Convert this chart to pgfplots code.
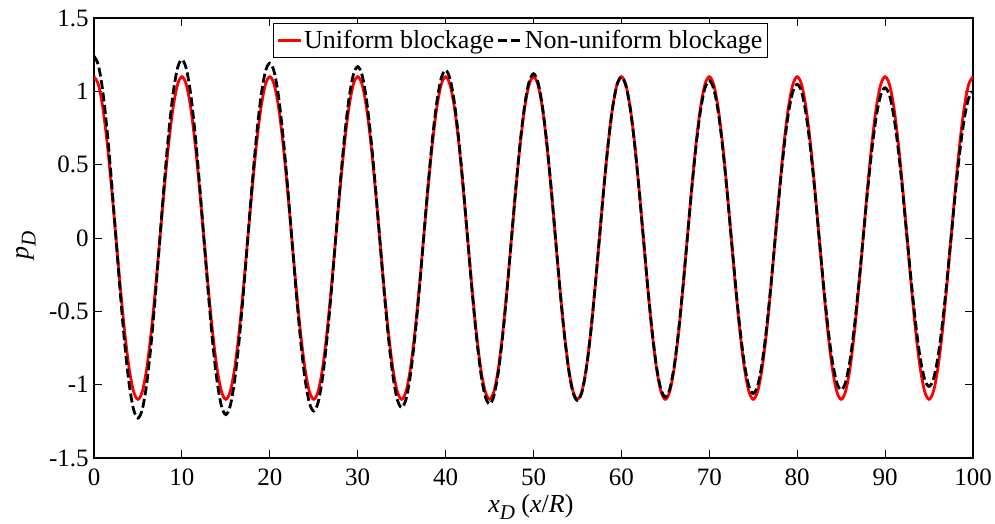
\documentclass[border=0pt]{standalone}
\usepackage{fontspec}
\setmainfont{Liberation Serif}
\usepackage{pgfplots}
\usepackage{pgfplotstable}
\pgfplotsset{compat=1.18}

% pressure along the duct: x_D, uniform blockage, non-uniform blockage
\pgfplotstableread{
x u n
0 1.100 1.240
0.5 1.046 1.178
1 0.890 1.001
1.5 0.647 0.727
2 0.340 0.382
2.5 0 0
3 -0.340 -0.381
3.5 -0.647 -0.724
4 -0.890 -0.995
4.5 -1.046 -1.169
5 -1.100 -1.228
5.5 -1.046 -1.167
6 -0.890 -0.992
6.5 -0.647 -0.720
7 -0.340 -0.378
7.5 0 0
8 0.340 0.377
8.5 0.647 0.717
9 0.890 0.986
9.5 1.046 1.158
10 1.100 1.216
10.5 1.046 1.155
11 0.890 0.982
11.5 0.647 0.713
12 0.340 0.374
12.5 0 0
13 -0.340 -0.374
13.5 -0.647 -0.710
14 -0.890 -0.976
14.5 -1.046 -1.146
15 -1.100 -1.204
15.5 -1.046 -1.144
16 -0.890 -0.972
16.5 -0.647 -0.706
17 -0.340 -0.371
17.5 0 0
18 0.340 0.370
18.5 0.647 0.703
19 0.890 0.966
19.5 1.046 1.135
20 1.100 1.192
20.5 1.046 1.133
21 0.890 0.962
21.5 0.647 0.699
22 0.340 0.367
22.5 0 0
23 -0.340 -0.366
23.5 -0.647 -0.696
24 -0.890 -0.957
24.5 -1.046 -1.123
25 -1.100 -1.180
25.5 -1.046 -1.121
26 -0.890 -0.953
26.5 -0.647 -0.691
27 -0.340 -0.363
27.5 0 0
28 0.340 0.362
28.5 0.647 0.689
29 0.890 0.947
29.5 1.046 1.112
30 1.100 1.168
30.5 1.046 1.110
31 0.890 0.943
31.5 0.647 0.684
32 0.340 0.359
32.5 0 0
33 -0.340 -0.359
33.5 -0.647 -0.682
34 -0.890 -0.937
34.5 -1.046 -1.101
35 -1.100 -1.156
35.5 -1.046 -1.098
36 -0.890 -0.933
36.5 -0.647 -0.677
37 -0.340 -0.356
37.5 0 0
38 0.340 0.355
38.5 0.647 0.675
39 0.890 0.927
39.5 1.046 1.089
40 1.100 1.144
40.5 1.046 1.087
41 0.890 0.924
41.5 0.647 0.670
42 0.340 0.352
42.5 0 0
43 -0.340 -0.351
43.5 -0.647 -0.667
44 -0.890 -0.918
44.5 -1.046 -1.078
45 -1.100 -1.132
45.5 -1.046 -1.075
46 -0.890 -0.914
46.5 -0.647 -0.663
47 -0.340 -0.348
47.5 0 0
48 0.340 0.348
48.5 0.647 0.660
49 0.890 0.908
49.5 1.046 1.066
50 1.100 1.120
50.5 1.046 1.064
51 0.890 0.904
51.5 0.647 0.656
52 0.340 0.345
52.5 0 0
53 -0.340 -0.344
53.5 -0.647 -0.653
54 -0.890 -0.898
54.5 -1.046 -1.055
55 -1.100 -1.108
55.5 -1.046 -1.053
56 -0.890 -0.894
56.5 -0.647 -0.649
57 -0.340 -0.341
57.5 0 0
58 0.340 0.340
58.5 0.647 0.646
59 0.890 0.889
59.5 1.046 1.044
60 1.100 1.096
60.5 1.046 1.041
61 0.890 0.885
61.5 0.647 0.642
62 0.340 0.337
62.5 0 0
63 -0.340 -0.336
63.5 -0.647 -0.639
64 -0.890 -0.879
64.5 -1.046 -1.032
65 -1.100 -1.084
65.5 -1.046 -1.030
66 -0.890 -0.875
66.5 -0.647 -0.635
67 -0.340 -0.333
67.5 0 0
68 0.340 0.333
68.5 0.647 0.632
69 0.890 0.869
69.5 1.046 1.021
70 1.100 1.072
70.5 1.046 1.018
71 0.890 0.865
71.5 0.647 0.628
72 0.340 0.330
72.5 0 0
73 -0.340 -0.329
73.5 -0.647 -0.625
74 -0.890 -0.860
74.5 -1.046 -1.009
75 -1.100 -1.060
75.5 -1.046 -1.007
76 -0.890 -0.856
76.5 -0.647 -0.621
77 -0.340 -0.326
77.5 0 0
78 0.340 0.325
78.5 0.647 0.618
79 0.890 0.850
79.5 1.046 0.998
80 1.100 1.048
80.5 1.046 0.996
81 0.890 0.846
81.5 0.647 0.614
82 0.340 0.322
82.5 0 0
83 -0.340 -0.322
83.5 -0.647 -0.611
84 -0.890 -0.840
84.5 -1.046 -0.986
85 -1.100 -1.036
85.5 -1.046 -0.984
86 -0.890 -0.836
86.5 -0.647 -0.607
87 -0.340 -0.319
87.5 0 0
88 0.340 0.318
88.5 0.647 0.604
89 0.890 0.830
89.5 1.046 0.975
90 1.100 1.024
90.5 1.046 0.973
91 0.890 0.826
91.5 0.647 0.600
92 0.340 0.315
92.5 0 0
93 -0.340 -0.314
93.5 -0.647 -0.597
94 -0.890 -0.821
94.5 -1.046 -0.964
95 -1.100 -1.012
95.5 -1.046 -0.961
96 -0.890 -0.817
96.5 -0.647 -0.593
97 -0.340 -0.311
97.5 0 0
98 0.340 0.311
98.5 0.647 0.590
99 0.890 0.811
99.5 1.046 0.952
100 1.100 1.000
}\pressure

\newcommand{\subD}{\raisebox{-3.6pt}{\fontsize{10.5}{12}\selectfont\itshape D}}

\begin{document}
\begin{tikzpicture}
\begin{axis}[
  scale only axis,
  width=439.5pt, height=220pt,
  xmin=0, xmax=100, ymin=-1.5, ymax=1.5,
  xtick={0,10,...,100},
  ytick={-1.5,-1,-0.5,0,0.5,1,1.5},
  minor tick num=0,
  tick align=inside,
  major tick length=4pt,
  every tick/.style={black, line width=0.5pt},
  axis line style={black, line width=0.8pt},
  /pgf/number format/assume math mode=true,
  ticklabel style={font=\fontsize{12.5}{15}\selectfont},
  xticklabel style={inner ysep=5pt},
  yticklabel style={inner xsep=2.5pt},
  label style={font=\fontsize{13}{15}\selectfont},
  xlabel={\textit{x}\subD\ (\textit{x}/\textit{R})},
  xlabel style={at={(axis description cs:0.497,-0.124)}, anchor=base},
  ylabel={\textit{p}\subD},
  ylabel style={at={(axis description cs:-0.0774,0.484)}, anchor=center},
  legend columns=2,
  legend image code/.code={\draw[#1] (0pt,0pt) -- (11.5pt,0pt);},
  legend style={
    at={(axis description cs:0.2036,0.989)}, anchor=north west,
    draw=black, line width=0.6pt,
    font=\fontsize{13}{15}\selectfont,
    inner xsep=1.4pt, inner ysep=2.2pt,
    nodes={inner xsep=1pt, inner ysep=1pt},
    /tikz/every even column/.append style={column sep=0.5pt},
  },
]
\addplot[red, line width=1.4pt, smooth] table[x=x, y=u] {\pressure};
\addlegendentry{Uniform blockage}
\addplot[black, line width=1.4pt, smooth, dash pattern=on 4.5pt off 1.8pt] table[x=x, y=n] {\pressure};
\addlegendentry{Non-uniform blockage}
\end{axis}
\pgfresetboundingbox
\path ([shift={(-47pt,-33pt)}]current axis.south west) rectangle ([shift={(11pt,9pt)}]current axis.north east);
\end{tikzpicture}
\end{document}
